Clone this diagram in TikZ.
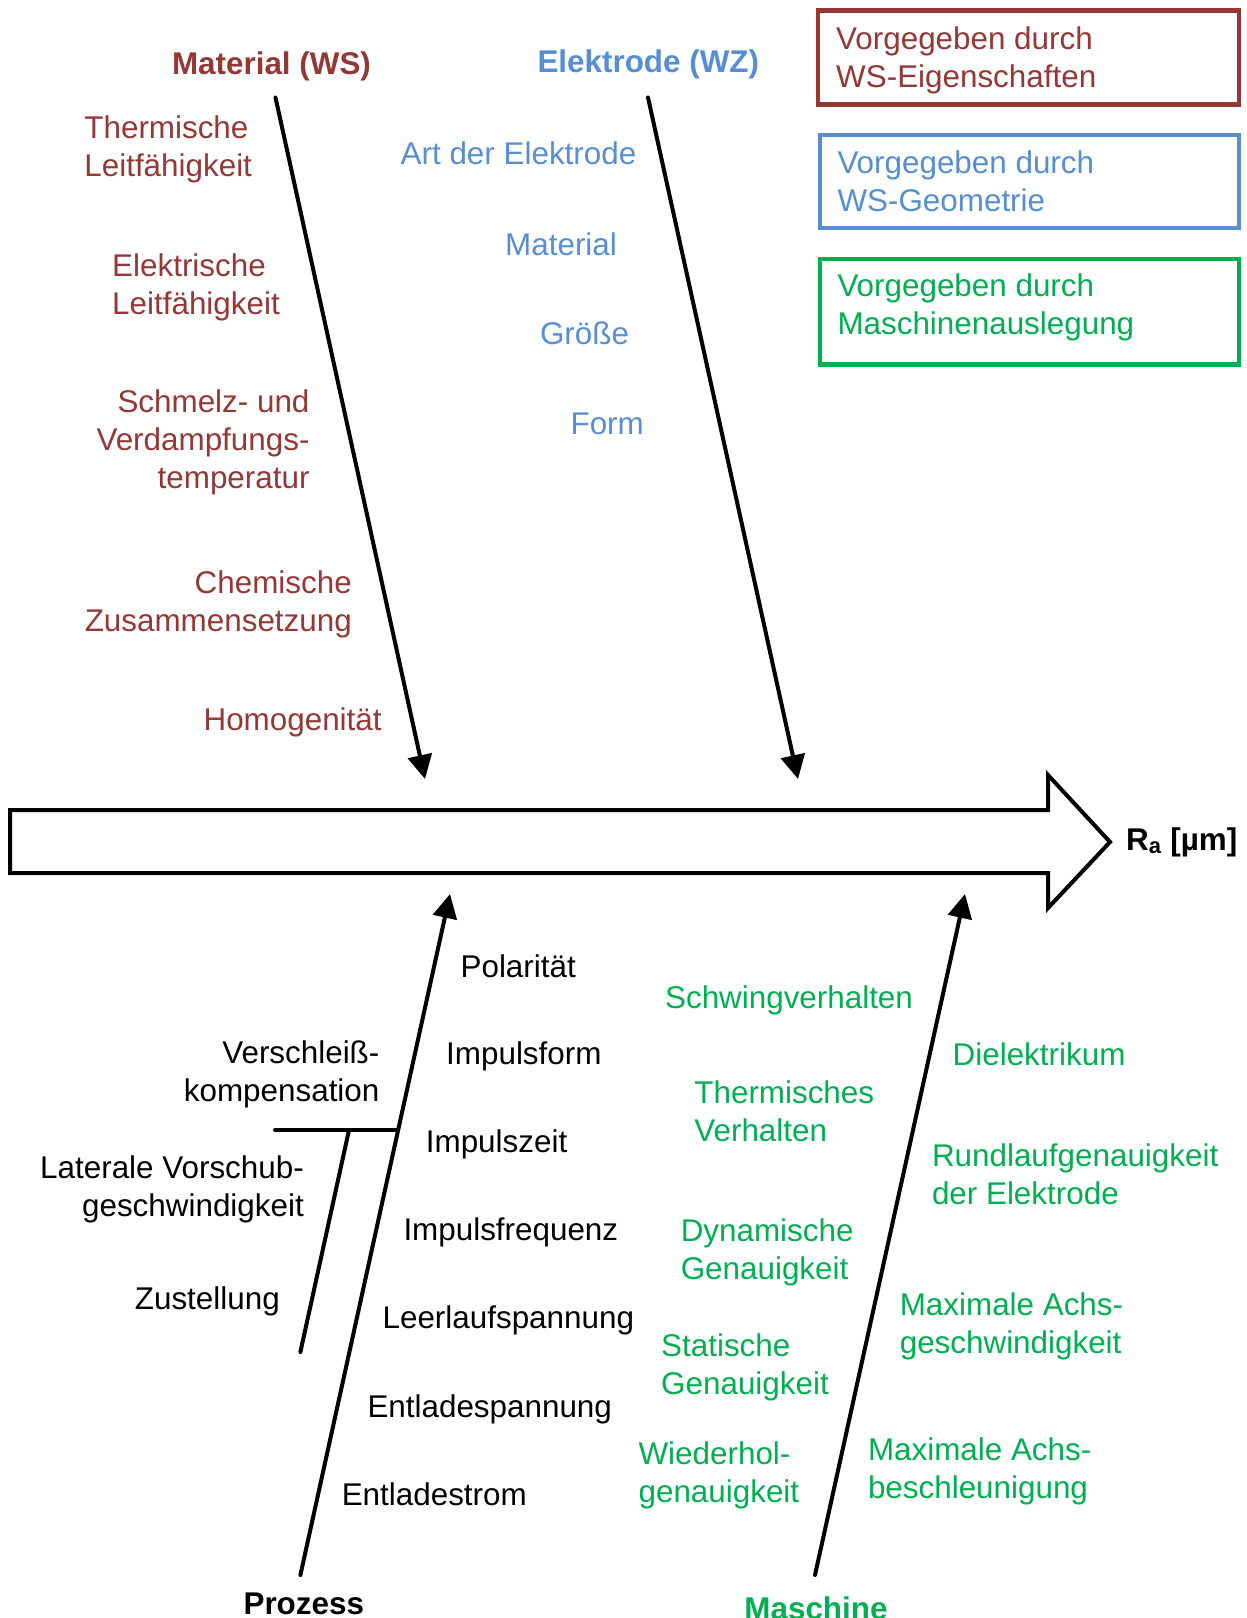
\documentclass[tikz,border=0pt]{standalone}
\usepackage{fontspec}
\setmainfont{Liberation Sans}
\usetikzlibrary{arrows.meta}

\definecolor{wsred}{HTML}{953735}
\definecolor{wzblue}{HTML}{558ED5}
\definecolor{mgreen}{HTML}{00B050}

\newcommand\diagfont{\fontsize{31.4}{38}\selectfont}

% multi-line nodes are placed by the baseline of their last line
\tikzset{
  txt/.style={inner sep=0pt, font=\diagfont, anchor=base west, align=left},
  rtxt/.style={inner sep=0pt, font=\diagfont, anchor=base east, align=right},
  title/.style={inner sep=0pt, font=\diagfont\bfseries, anchor=base},
  branch/.style={line width=4pt, line cap=round,
    -{Triangle[length=24pt,width=24pt]}},
  twig/.style={line width=4pt, line cap=round},
  bigarrow/.style={line width=4pt, line join=miter},
  legendbox/.style={draw=#1, line width=4.3pt, inner sep=0pt, outer sep=0pt,
    anchor=north west},
}

\begin{document}
\begin{tikzpicture}[x=1pt, y=-1pt]
\useasboundingbox (0,0) rectangle (1247,1618);

% main effect arrow
\draw[bigarrow] (10,810) -- (1048,810) -- (1048,775) -- (1110,842)
  -- (1048,908) -- (1048,873) -- (10,873) -- cycle;
\node[inner sep=0pt, font=\diagfont\bfseries, anchor=base west] (ra)
  at (1126,850) {R\textsubscript{a} [µm]};

% branch end points
\coordinate (matTail) at (275.5,97.5);
\coordinate (matTip)  at (425,779);
\coordinate (eleTail) at (648,97.5);
\coordinate (eleTip)  at (798,779);
\coordinate (proTail) at (300.4,1575);
\coordinate (proTip)  at (450,894);
\coordinate (masTail) at (815,1575);
\coordinate (masTip)  at (965,894);
\coordinate (subJoin) at (396.7,1130);
\coordinate (subLeft) at (275,1130);
\coordinate (subTop)  at (349,1130);
\coordinate (subEnd)  at (300.4,1352);

\draw[branch] (matTail) -- (matTip);
\draw[branch] (eleTail) -- (eleTip);
\draw[branch] (proTail) -- (proTip);
\draw[branch] (masTail) -- (masTip);
\draw[twig] (subLeft) -- (subJoin);
\draw[twig] (subTop) -- (subEnd);

% category titles
\node[title, wsred]  (tMat) at (271.5,74) {Material (WS)};
\node[title, wzblue] (tEle) at (648.3,72) {Elektrode (WZ)};
\node[title]         (tPro) at (303.8,1614) {Prozess};
\node[title, mgreen] (tMas) at (816,1619) {Maschine};

% material causes
\begin{scope}[wsred]
\node[txt]  (m1) at (84.2,176.5) {Thermische\\Leitfähigkeit};
\node[txt]  (m2) at (112,314) {Elektrische\\Leitfähigkeit};
\node[rtxt] (m3) at (309.7,488) {Schmelz- und\\Verdampfungs-\\temperatur};
\node[rtxt] (m4) at (352,631) {Chemische\\Zusammensetzung};
\node[txt]  (m5) at (203.4,730.4) {Homogenität};
\end{scope}

% electrode causes
\begin{scope}[wzblue]
\node[txt] (e1) at (400.5,164.3) {Art der Elektrode};
\node[txt] (e2) at (505,255) {Material};
\node[txt] (e3) at (539.8,344.3) {Größe};
\node[txt] (e4) at (570.4,434.3) {Form};
\end{scope}

% process causes
\node[txt] (p1) at (460.4,977) {Polarität};
\node[txt] (p2) at (446,1064.5) {Impulsform};
\node[txt] (p3) at (425.7,1152) {Impulszeit};
\node[txt] (p4) at (403.3,1240.5) {Impulsfrequenz};
\node[txt] (p5) at (382.4,1328.5) {Leerlaufspannung};
\node[txt] (p6) at (367.3,1417.5) {Entladespannung};
\node[txt] (p7) at (341.6,1505) {Entladestrom};
\node[rtxt] (p8) at (379.6,1101) {Verschleiß-\\kompensation};
\node[rtxt] (p9) at (304,1216) {Laterale Vorschub-\\geschwindigkeit};
\node[txt] (p10) at (134.7,1309) {Zustellung};

% machine causes
\begin{scope}[mgreen]
\node[txt] (k1) at (664.9,1008.7) {Schwingverhalten};
\node[txt] (k2) at (694.2,1141.5) {Thermisches\\Verhalten};
\node[txt] (k3) at (680.6,1279.7) {Dynamische\\Genauigkeit};
\node[txt] (k4) at (661,1394.4) {Statische\\Genauigkeit};
\node[txt] (k5) at (638.4,1502.5) {Wiederhol-\\genauigkeit};
\node[txt] (k6) at (952.5,1065) {Dielektrikum};
\node[txt] (k7) at (931.8,1204) {Rundlaufgenauigkeit\\der Elektrode};
\node[txt] (k8) at (899.6,1353) {Maximale Achs-\\geschwindigkeit};
\node[txt] (k9) at (867.8,1498.3) {Maximale Achs-\\beschleunigung};
\end{scope}

% legend
\node[legendbox=wsred, minimum width=420.6pt, minimum height=94pt]
  (lg1) at (818.2,10.5) {};
\node[txt, wsred] (lg1t) at (836,87.7) {Vorgegeben durch\\WS-Eigenschaften};
\node[legendbox=wzblue, minimum width=418.9pt, minimum height=92.9pt]
  (lg2) at (819.9,134.9) {};
\node[txt, wzblue] (lg2t) at (837.3,211.3) {Vorgegeben durch\\WS-Geometrie};
\node[legendbox=mgreen, minimum width=418.9pt, minimum height=105.3pt]
  (lg3) at (819.9,259.2) {};
\node[txt, mgreen] (lg3t) at (837.3,334.7) {Vorgegeben durch\\Maschinenauslegung};
\end{tikzpicture}
\end{document}
